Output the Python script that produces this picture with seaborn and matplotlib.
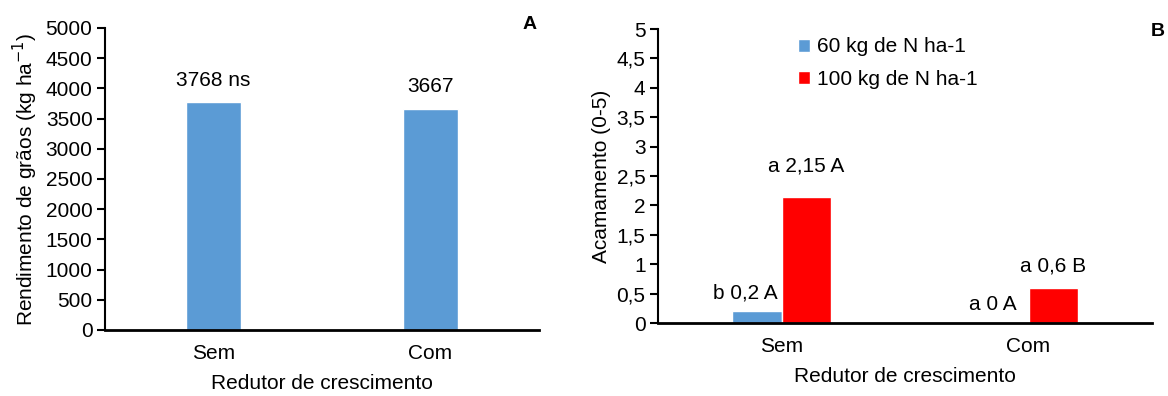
import numpy as np
import pandas as pd
import seaborn as sns
import matplotlib
matplotlib.use("Agg")
from matplotlib import pyplot as plt
from matplotlib.patches import Patch
from matplotlib.ticker import FuncFormatter, MultipleLocator

# data
redutor = ["Sem", "Com"]
rendimento = [3768, 3667]
rendimento_labels = ["3768 ns", "3667"]

doses = ["60 kg de N ha-1", "100 kg de N ha-1"]
acam_60 = [0.2, 0.0]
acam_100 = [2.15, 0.6]
acam_labels_60 = ["b 0,2 A", "a 0 A"]
acam_labels_100 = ["a 2,15 A", "a 0,6 B"]

blue = "#5B9BD5"
red = "#FF0000"

sns.set_theme(style="white")
plt.rcParams["font.family"] = ["Liberation Sans", "DejaVu Sans"]
plt.rcParams["text.color"] = "black"
plt.rcParams["axes.labelcolor"] = "black"
plt.rcParams["xtick.color"] = "black"
plt.rcParams["ytick.color"] = "black"
fs = 15

fig = plt.figure(figsize=(11.68, 3.96), dpi=100)
axA = fig.add_axes([0.0899, 0.1667, 0.3716, 0.7626])
axB = fig.add_axes([0.5634, 0.1843, 0.4229, 0.7424])


def style_axis(ax):
    for s in ["top", "right"]:
        ax.spines[s].set_visible(False)
    ax.spines["left"].set_color("black")
    ax.spines["left"].set_linewidth(1.5)
    ax.spines["bottom"].set_color("black")
    ax.spines["bottom"].set_linewidth(2)
    ax.tick_params(axis="y", direction="out", length=6, width=1.5, color="black",
                   labelsize=fs, left=True, pad=3)
    ax.tick_params(axis="x", length=0, labelsize=fs, pad=10)
    ax.set_xlim(-0.5, 1.5)


# Panel A
dfA = pd.DataFrame({"redutor": redutor, "rendimento": rendimento})
sns.barplot(data=dfA, x="redutor", y="rendimento", color=blue, width=0.25,
            saturation=1, ax=axA)
style_axis(axA)
axA.set_ylim(0, 5000)
axA.yaxis.set_major_locator(MultipleLocator(500))
axA.set_ylabel("Rendimento de grãos (kg ha$^{-1}$)", fontsize=fs, labelpad=4)
axA.set_xlabel("Redutor de crescimento", fontsize=fs, labelpad=8)
for i, (v, lab) in enumerate(zip(rendimento, rendimento_labels)):
    axA.text(i, v + 370, lab, ha="center", va="center", fontsize=fs)
axA.text(0.979, 1.013, "A", transform=axA.transAxes, ha="center", va="center",
         fontsize=fs - 1, fontweight="bold")

# Panel B
dfB = pd.DataFrame({
    "redutor": redutor * 2,
    "dose": [doses[0]] * 2 + [doses[1]] * 2,
    "acamamento": acam_60 + acam_100,
})
sns.barplot(data=dfB, x="redutor", y="acamamento", hue="dose",
            palette=[blue, red], width=0.4, saturation=1, ax=axB, legend=False)
style_axis(axB)
axB.set_ylim(0, 5)
axB.yaxis.set_major_locator(MultipleLocator(0.5))
axB.yaxis.set_major_formatter(FuncFormatter(lambda v, p: f"{v:g}".replace(".", ",")))
axB.set_ylabel("Acamamento (0-5)", fontsize=fs, labelpad=4)
axB.set_xlabel("Redutor de crescimento", fontsize=fs, labelpad=8)
for i in range(len(redutor)):
    axB.text(i - 0.145, acam_60[i] + 0.31, acam_labels_60[i], ha="center",
             va="center", fontsize=fs)
for i, off in enumerate([0.52, 0.37]):
    axB.text(i + 0.1, acam_100[i] + off, acam_labels_100[i], ha="center",
             va="center", fontsize=fs)
axB.text(1.012, 0.99, "B", transform=axB.transAxes, ha="center", va="center",
         fontsize=fs - 1, fontweight="bold")
handles = [Patch(facecolor=blue, label=doses[0]), Patch(facecolor=red, label=doses[1])]
axB.legend(handles=handles, loc="upper left", bbox_to_anchor=(0.245, 1.035),
           frameon=False, fontsize=fs, handlelength=0.6, handleheight=0.6,
           handletextpad=0.3, labelspacing=0.64)

fig.savefig("out.png", dpi=100)
